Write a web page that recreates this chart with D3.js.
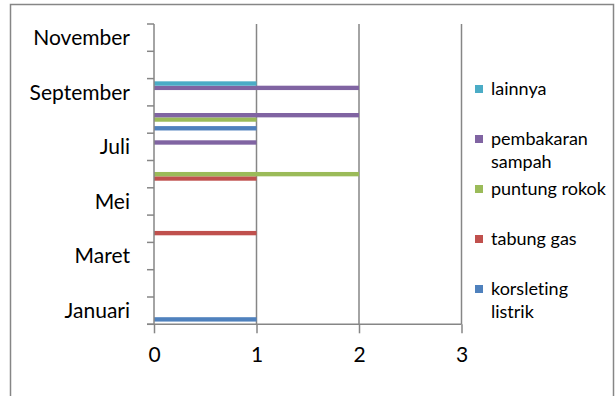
<!DOCTYPE html>
<html>
<head>
<meta charset="utf-8">
<script src="https://cdn.jsdelivr.net/npm/d3@7/dist/d3.min.js"></script>
<style>
  html, body { margin: 0; padding: 0; background: #fff; }
  svg { display: block; font-family: Lato, "Open Sans", sans-serif; font-variant-ligatures: none; }
</style>
</head>
<body>
<svg id="chart" width="616" height="396"></svg>
<script>
// Months on the category axis (bottom to top)
const months = ["Januari", "Februari", "Maret", "April", "Mei", "Juni",
                "Juli", "Agustus", "September", "Oktober", "November"];

// Fire causes, one series each (values = number of incidents per month)
const seriesNames = ["korsleting listrik", "tabung gas", "puntung rokok", "pembakaran sampah", "lainnya"];
const korsletingListrik = [1, 0, 0, 0, 0, 0, 0, 1, 0, 0, 0];
const tabungGas         = [0, 0, 0, 1, 0, 1, 0, 0, 0, 0, 0];
const puntungRokok      = [0, 0, 0, 0, 0, 2, 0, 1, 0, 0, 0];
const pembakaranSampah  = [0, 0, 0, 0, 0, 0, 1, 2, 2, 0, 0];
const lainnya           = [0, 0, 0, 0, 0, 0, 0, 0, 1, 0, 0];
const seriesColors = ["#4F81BD", "#C0504D", "#9BBB59", "#8064A2", "#4BACC6"];
const xTicks = [0, 1, 2, 3];

const seriesValues = [korsletingListrik, tabungGas, puntungRokok, pembakaranSampah, lainnya];

const svg = d3.select("#chart");
const axisColor = "#868686";

// Outer chart frame
svg.append("rect")
  .attr("x", 10.5).attr("y", 4.5)
  .attr("width", 603).attr("height", 420)
  .attr("fill", "none").attr("stroke", axisColor).attr("stroke-width", 1.5);

const plot = { left: 154, right: 461.5, top: 24, bottom: 324.3 };

const x = d3.scaleLinear().domain([0, 3]).range([plot.left, plot.right]);
const y0 = d3.scaleBand().domain(months).range([plot.bottom, plot.top]).padding(0);
// series stacked top-to-bottom inside a band: last series on top
const y1 = d3.scaleBand()
  .domain(seriesNames.slice().reverse())
  .range([0, y0.bandwidth()])
  .paddingInner(0).paddingOuter(0.625);

// Vertical gridlines
svg.append("g").selectAll("line")
  .data(xTicks.filter(d => d > 0))
  .join("line")
  .attr("x1", d => x(d)).attr("x2", d => x(d))
  .attr("y1", plot.top).attr("y2", plot.bottom)
  .attr("stroke", axisColor).attr("stroke-width", 1.5);

// Bars
const bars = [];
seriesNames.forEach((s, si) => {
  months.forEach((m, mi) => {
    const v = seriesValues[si][mi];
    if (v > 0) bars.push({ s, si, m, v });
  });
});
svg.append("g").selectAll("rect")
  .data(bars)
  .join("rect")
  .attr("x", x(0))
  .attr("y", d => y0(d.m) + y1(d.s))
  .attr("width", d => x(d.v) - x(0))
  .attr("height", y1.bandwidth())
  .attr("fill", d => seriesColors[d.si]);

// X axis (value axis) at bottom
const xAxis = d3.axisBottom(x).tickValues(xTicks).tickSize(9).tickPadding(14)
  .tickFormat(d3.format("d"));
const gx = svg.append("g").attr("transform", `translate(0,${plot.bottom})`).call(xAxis);
gx.select(".domain").attr("stroke", axisColor).attr("stroke-width", 1.5)
  .attr("d", `M${plot.left - 7},0H${plot.right}`);
gx.selectAll(".tick line").attr("stroke", axisColor).attr("stroke-width", 1.5);
gx.selectAll(".tick text").attr("fill", "#000").style("font-size", "21px")
  .style("font-family", "Lato, 'Open Sans', sans-serif");

// Y axis (category axis): ticks at band boundaries, labels on every other month
const gy = svg.append("g");
gy.append("line")
  .attr("x1", plot.left).attr("x2", plot.left)
  .attr("y1", plot.top).attr("y2", plot.bottom)
  .attr("stroke", axisColor).attr("stroke-width", 1.5);
const boundaries = months.map(m => y0(m)).concat([plot.bottom]);
gy.selectAll("line.tick")
  .data(boundaries)
  .join("line")
  .attr("class", "tick")
  .attr("x1", plot.left - 7).attr("x2", plot.left)
  .attr("y1", d => d).attr("y2", d => d)
  .attr("stroke", axisColor).attr("stroke-width", 1.5);
gy.selectAll("text")
  .data(months.filter((m, i) => i % 2 === 0))
  .join("text")
  .attr("x", 130)
  .attr("y", d => y0(d) + y0.bandwidth() / 2)
  .attr("dy", "0.35em")
  .attr("text-anchor", "end")
  .style("font-size", "21px")
  .attr("fill", "#000")
  .text(d => d);

// Legend (reverse order, wrapped labels)
const legend = svg.append("g");
const legendOrder = seriesNames.map((s, i) => ({ s, i })).reverse();
const legendTop = 89, legendStep = 50, lineH = 23, textX = 491, maxW = 121;
legendOrder.forEach((d, k) => {
  const cy = legendTop + k * legendStep;
  legend.append("rect")
    .attr("x", 475).attr("y", cy - 4)
    .attr("width", 8).attr("height", 8)
    .attr("fill", seriesColors[d.i]);
  const t = legend.append("text")
    .attr("x", textX).attr("y", cy)
    .style("font-size", "18px").attr("fill", "#000");
  // word wrap to fit legend width
  const words = d.s.split(" ");
  let line = [];
  let tspan = t.append("tspan").attr("x", textX).attr("dy", "0.35em");
  words.forEach(w => {
    line.push(w);
    tspan.text(line.join(" "));
    if (tspan.node().getComputedTextLength() > maxW && line.length > 1) {
      line.pop();
      tspan.text(line.join(" "));
      line = [w];
      tspan = t.append("tspan").attr("x", textX).attr("dy", lineH + "px").text(w);
    }
  });
});
</script>
</body>
</html>
